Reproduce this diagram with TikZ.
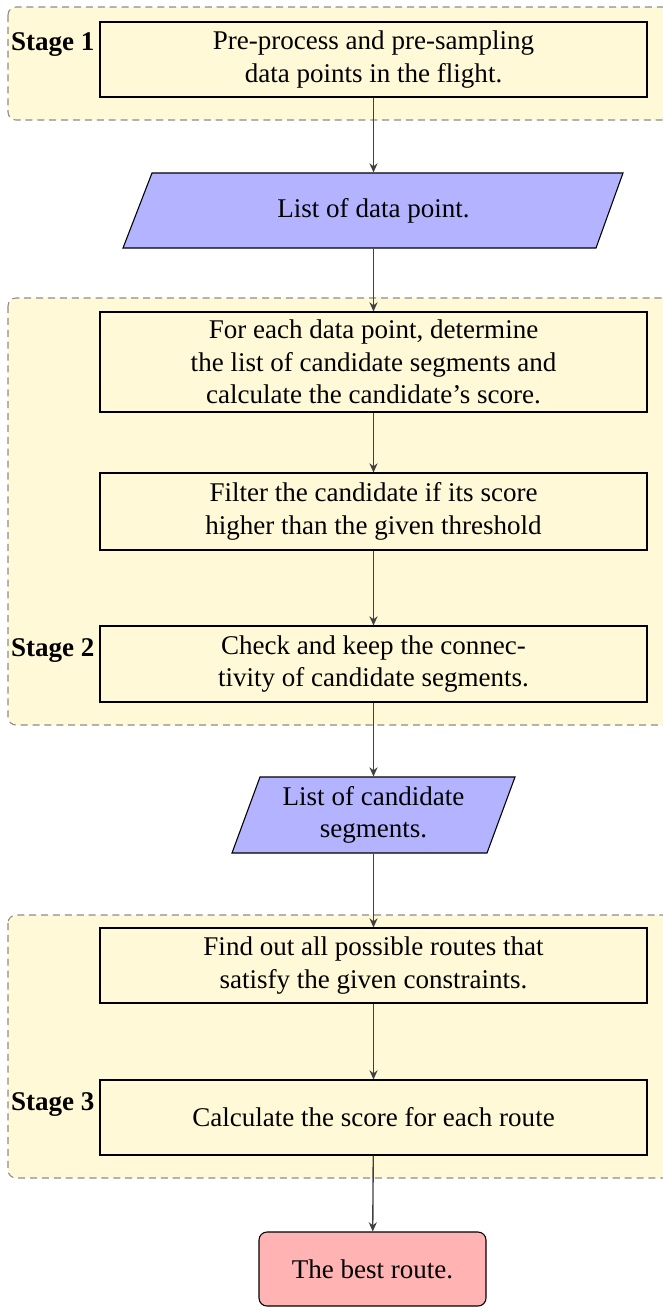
\documentclass[tikz,border=0pt]{standalone}
\usepackage{fontspec}
\setmainfont{Liberation Serif}
\usetikzlibrary{arrows.meta}
\newlength\pxl
\setlength\pxl{0.37pt}
\definecolor{stagefill}{HTML}{FFF9D8}
\definecolor{boxfill}{HTML}{FFF9D8}
\definecolor{iofill}{HTML}{B3B3FF}
\definecolor{endfill}{HTML}{FFB3B3}
\definecolor{stageline}{HTML}{8C8C8C}
\definecolor{arrline}{HTML}{404040}
\tikzset{
  stagebg/.style={fill=stagefill, draw=stageline, line width=0.4pt,
    dash pattern=on 2.6pt off 1.8pt, rounded corners=8\pxl},
  procbox/.style={draw=black, fill=boxfill, line width=0.4pt, align=center,
    minimum width=547\pxl, inner sep=0pt, font=\normalsize},
  iotext/.style={align=center, inner sep=0pt, draw=none},
  iopoly/.style={fill=iofill, draw=black, line width=0.4pt},
  endbox/.style={draw=black, fill=endfill, line width=0.4pt, rounded corners=8\pxl,
    align=center, minimum width=227\pxl, minimum height=74\pxl, inner sep=0pt},
  stagelabel/.style={font=\bfseries, anchor=base east, inner sep=0pt},
  arr/.style={draw=arrline, line width=0.5pt, -{Stealth[length=3.4pt,width=3pt]}}
}
\begin{document}
\begin{tikzpicture}[x=\pxl, y=-\pxl]
  \clip (0,0) rectangle (663,1307);

  % stage backgrounds
  \path[stagebg] (8,7) rectangle (690,120);
  \path[stagebg] (8,298) rectangle (690,725);
  \path[stagebg] (8,915) rectangle (690,1178);

  % stage 1
  \node[procbox, minimum height=75\pxl] (pre) at (373.5,59.5)
    {Pre-process and pre-sampling\\ data points in the flight.};
  \node[stagelabel] (st1) at (95,50) {Stage 1};

  % list of data points
  \path[iopoly] (123,248) -- (152,173) -- (623,173) -- (596,248) -- cycle;
  \node[iotext, minimum width=440\pxl, minimum height=75\pxl] (pts) at (373.5,210.5)
    {List of data point.};

  % stage 2
  \node[procbox, minimum height=100\pxl] (cand) at (373.5,362)
    {For each data point, determine\\ the list of candidate segments and\\ calculate the candidate's score.};
  \node[procbox, minimum height=77\pxl] (filt) at (373.5,511.5)
    {Filter the candidate if its score\\ higher than the given threshold};
  \node[procbox, minimum height=76\pxl] (conn) at (373.5,664)
    {Check and keep the connec-\\ tivity of candidate segments.};
  \node[stagelabel] (st2) at (95,656.5) {Stage 2};

  % list of candidate segments
  \path[iopoly] (232,853) -- (260,777) -- (515,777) -- (487,853) -- cycle;
  \node[iotext, minimum width=200\pxl, minimum height=76\pxl] (segs) at (373.5,815)
    {List of candidate\\ segments.};

  % stage 3
  \node[procbox, minimum height=75\pxl] (routes) at (373.5,965.5)
    {Find out all possible routes that\\ satisfy the given constraints.};
  \node[procbox, minimum height=75\pxl] (score) at (373.5,1117.5)
    {Calculate the score for each route};
  \node[stagelabel] (st3) at (95,1110) {Stage 3};

  % result
  \node[endbox] (best) at (372.5,1269) {The best route.};

  % connectors
  \draw[arr] (pre) -- (pts);
  \draw[arr] (pts) -- (cand);
  \draw[arr] (cand) -- (filt);
  \draw[arr] (filt) -- (conn);
  \draw[arr] (conn) -- (segs);
  \draw[arr] (segs) -- (routes);
  \draw[arr] (routes) -- (score);
  \draw[arr] (score) -- (best);
\end{tikzpicture}
\end{document}
